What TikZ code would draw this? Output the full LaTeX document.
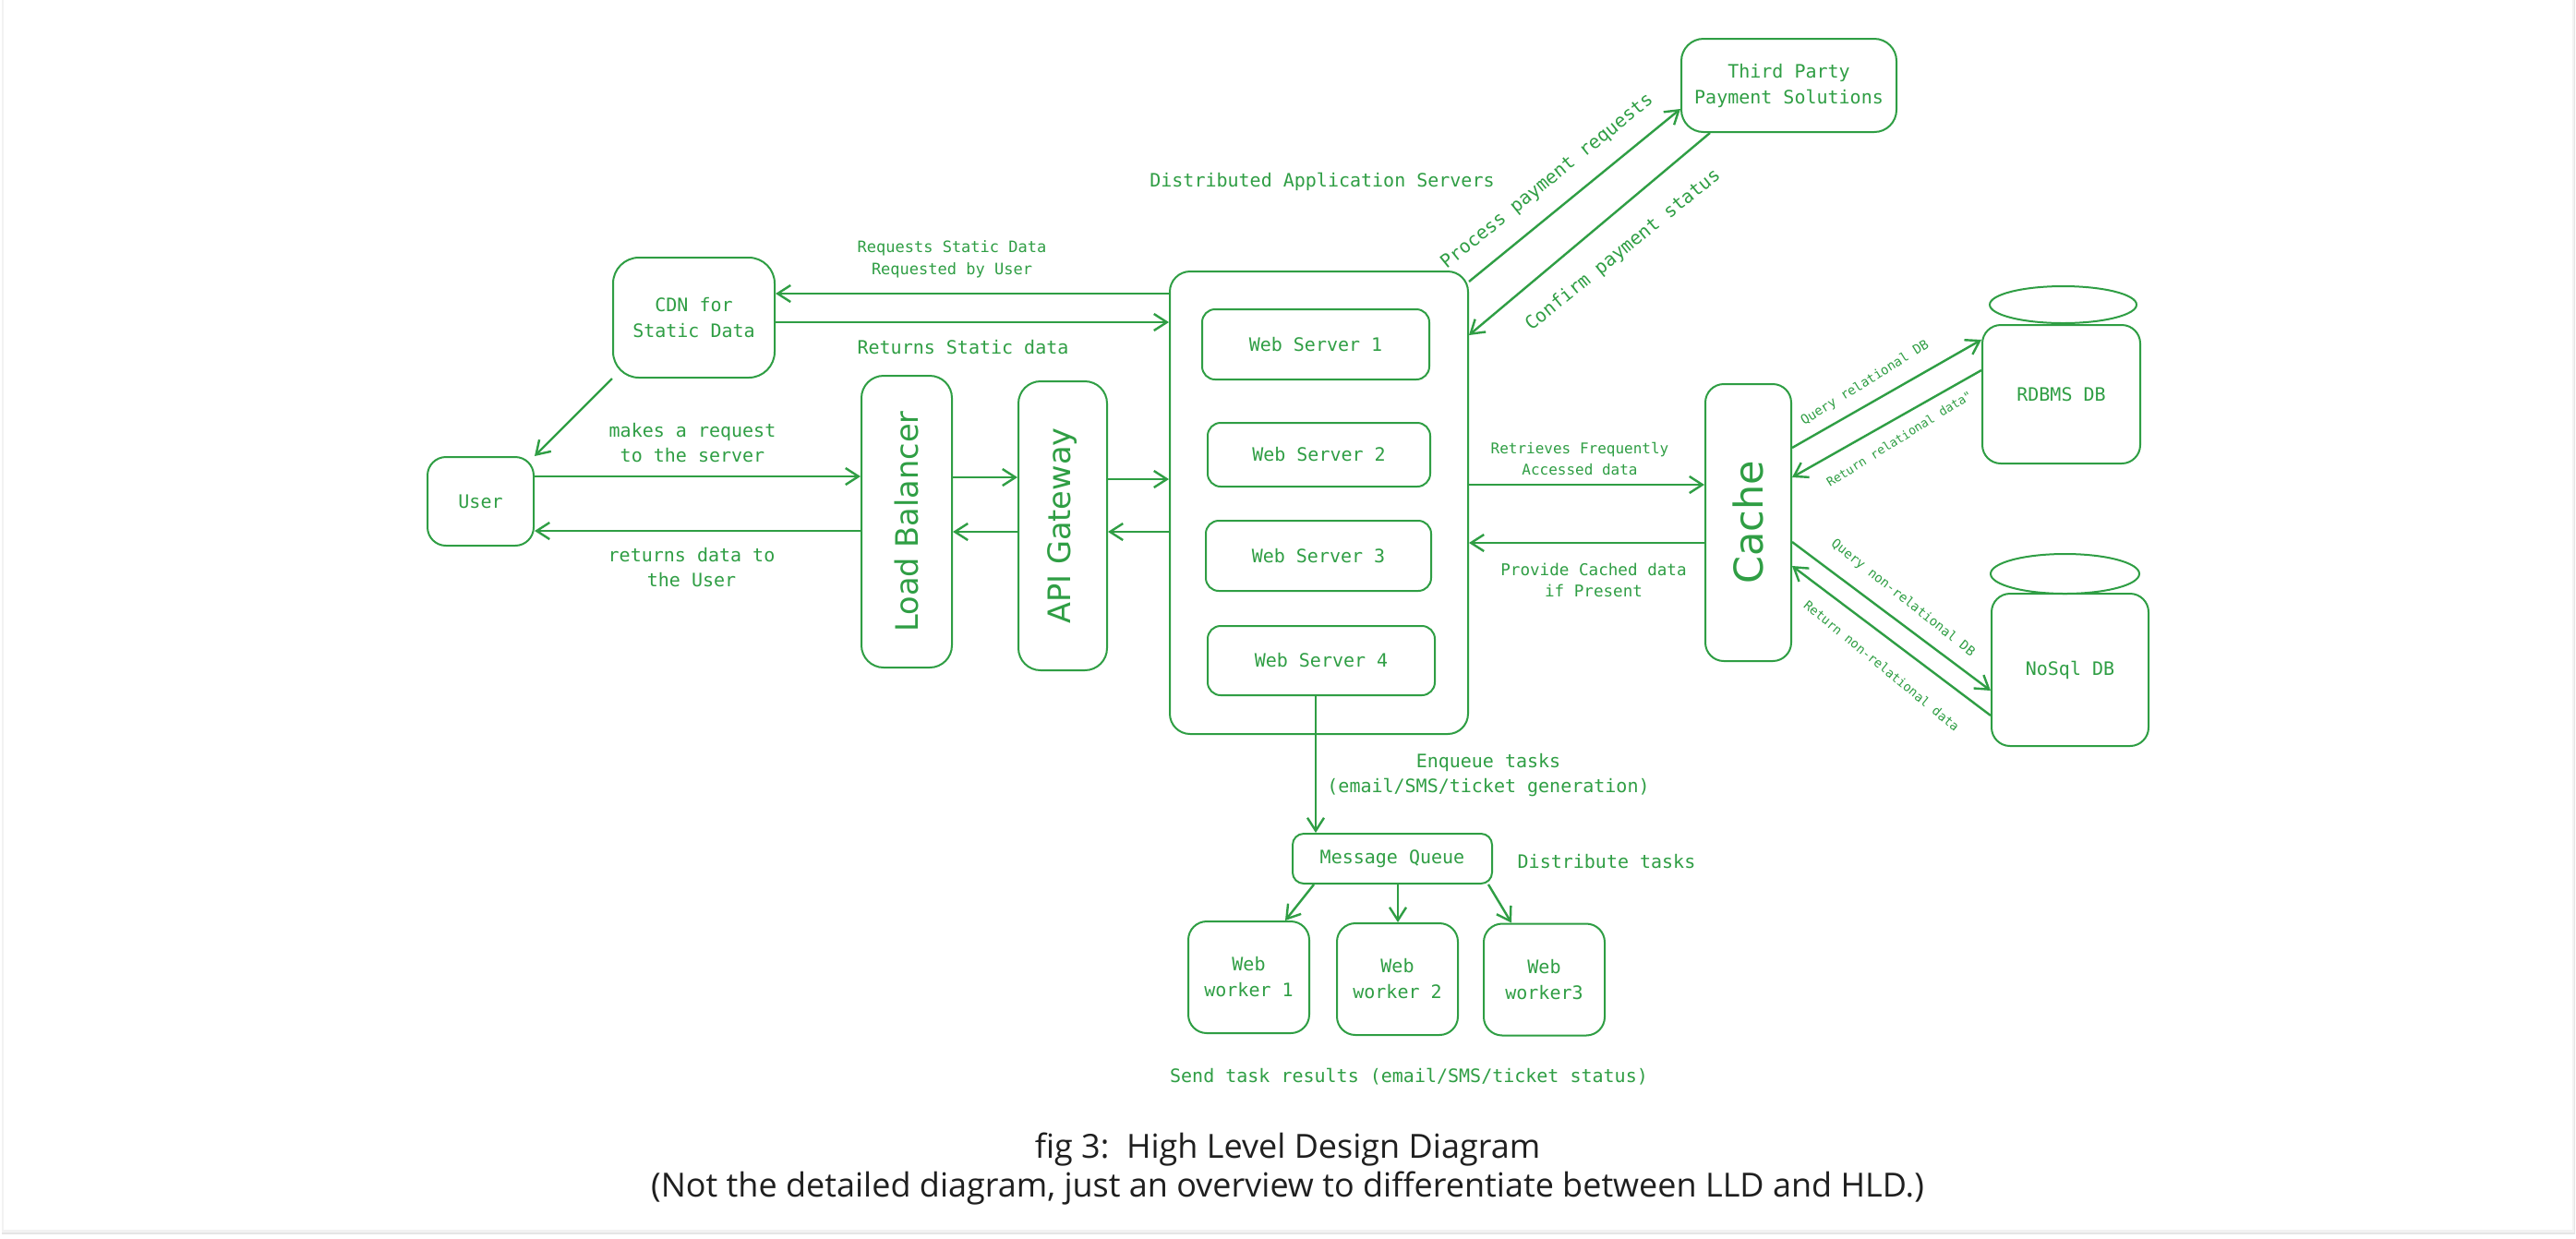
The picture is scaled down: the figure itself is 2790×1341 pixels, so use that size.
\documentclass[tikz,border=0pt]{standalone}
\usepackage{fontspec}
\newfontfamily\monof{DejaVu Sans Mono}
\newfontfamily\bigf{DejaVu Sans}
\newfontfamily\capf{Open Sans}
\usetikzlibrary{arrows.meta,shapes.geometric}
\definecolor{exgreen}{HTML}{2F9E44}
\begin{document}
\begin{tikzpicture}[x=0.5pt,y=-0.5pt,
  box/.style={draw=exgreen, line width=1pt, rounded corners=10pt, inner sep=0pt, text=exgreen,
    font=\monof\fontsize{10}{14}\selectfont, align=center},
  srv/.style={box, rounded corners=7pt},
  bigtxt/.style={font=\bigf\fontsize{16.8}{20}\selectfont},
  dbtop/.style={draw=exgreen, line width=1pt, ellipse, inner sep=0pt},
  lbl/.style={text=exgreen, font=\monof\fontsize{10}{13.5}\selectfont, align=center, inner sep=0pt},
  arr/.style={draw=exgreen, line width=1.2pt, -{Straight Barb[length=7pt,width=9pt]}}]
\useasboundingbox (0,0) rectangle (2790,1341);
\fill[white] (0,0) rectangle (2790,1341);
% card with shadow
\fill[black!10] (2,0) rectangle (2789,1337);
\fill[black!5] (2,0) rectangle (2788,1335);
\fill[white] (4,-5) rectangle (2786,1332);

% nodes
\node[box, minimum width=57.5pt, minimum height=48pt] (user) at (520.5,543) {User};
\node[box, minimum width=87.5pt, minimum height=65pt, rounded corners=14pt] (cdn) at (751.5,344) {CDN for\\Static Data};
\node[box, bigtxt, rotate=90, minimum width=158pt, minimum height=49pt, rounded corners=12pt] (lb) at (982,565) {Load Balancer};
\node[box, bigtxt, rotate=90, minimum width=156.5pt, minimum height=48pt, rounded corners=12pt] (api) at (1151,569.5) {API Gateway};
\node[box, minimum width=161.5pt, minimum height=250.5pt, rounded corners=11pt] (app) at (1428.5,544.5) {};
\node[srv, minimum width=123pt, minimum height=38pt] (ws1) at (1425,373) {Web Server 1};
\node[srv, minimum width=120.5pt, minimum height=34.5pt] (ws2) at (1428.5,492.5) {Web Server 2};
\node[srv, minimum width=122pt, minimum height=38pt] (ws3) at (1428,602) {Web Server 3};
\node[srv, minimum width=123pt, minimum height=37.5pt] (ws4) at (1431,715.5) {Web Server 4};
\node[box, minimum width=116.5pt, minimum height=50.5pt, rounded corners=12pt] (third) at (1937.5,92.5) {Third Party\\Payment Solutions};
\node[box, rotate=90, font=\bigf\fontsize{21.5}{24}\selectfont, minimum width=150pt, minimum height=46.5pt] (cache) at (1893.5,566) {Cache};
\node[box, minimum width=85.5pt, minimum height=75pt] (rdbms) at (2232.5,427) {RDBMS DB};
\node[dbtop, minimum width=79.5pt, minimum height=20pt] (rdbmstop) at (2234.5,330) {};
\node[box, minimum width=85pt, minimum height=82.5pt] (nosql) at (2242,725.5) {NoSql DB};
\node[dbtop, minimum width=80.5pt, minimum height=21.5pt] (nosqltop) at (2236.5,621.5) {};
\node[srv, minimum width=108pt, minimum height=27pt, rounded corners=6pt] (mq) at (1508,930) {Message Queue};
\node[box, minimum width=65.5pt, minimum height=60.5pt] (w1) at (1352.5,1058.5) {Web\\worker 1};
\node[box, minimum width=65.5pt, minimum height=60.5pt] (w2) at (1513.5,1060.5) {Web\\worker 2};
\node[box, minimum width=65.5pt, minimum height=60.5pt] (w3) at (1672.5,1061) {Web\\worker3};

% labels
\node[lbl, font=\monof\fontsize{8.5}{12}\selectfont] (lreq) at (1031,281) {Requests Static Data\\Requested by User};
\node[lbl] (lret) at (1043,376) {Returns Static data};
\node[lbl] (lmake) at (750,479.5) {makes a request\\to the server};
\node[lbl] (lback) at (749,615) {returns data to\\the User};
\node[lbl] (ldist) at (1432,197) {Distributed Application Servers};
\node[lbl, rotate=39] (lpay) at (1676,197) {Process payment requests};
\node[lbl, rotate=39] (lconf) at (1758,271) {Confirm payment status};
\node[lbl, font=\monof\fontsize{8}{11.5}\selectfont] (lretr) at (1711,496.5) {Retrieves Frequently\\Accessed data};
\node[lbl, font=\monof\fontsize{8.8}{11.5}\selectfont] (lprov) at (1726,628.5) {Provide Cached data\\if Present};
\node[lbl, rotate=32, font=\monof\fontsize{7}{8}\selectfont] (lqr) at (2020,415) {Query relational DB};
\node[lbl, rotate=32, font=\monof\fontsize{6.6}{8}\selectfont] (lrr) at (2057,475) {Return relational data"};
\node[lbl, rotate=-38.5, font=\monof\fontsize{7}{8}\selectfont] (lqn) at (2061,648) {Query non-relational DB};
\node[lbl, rotate=-39.5, font=\monof\fontsize{6.8}{8}\selectfont] (lrn) at (2038,721) {Return non-relational data};
\node[lbl] (lenq) at (1612,839.5) {Enqueue tasks\\(email/SMS/ticket generation)};
\node[lbl] (ldtask) at (1740,933) {Distribute tasks};
\node[lbl] (lsend) at (1526,1166) {Send task results (email/SMS/ticket status)};
\node[font=\capf\fontsize{18}{21}\selectfont, align=center, text=black!88, inner sep=0pt] (cap) at (1394.5,1266)
  {fig 3:\ \ High Level Design Diagram\\(Not the detailed diagram, just an overview to differentiate between LLD and HLD.)};

% connectors (rotated boxes: .north = left side, .south = right side)
\draw[arr] (app.west |- 0,318) -- (cdn.east |- 0,318);
\draw[arr] (cdn.east |- 0,349) -- (app.west |- 0,349);
\draw[arr] (cdn.south west) -- (user.north east);
\draw[arr] (user.east |- 0,516) -- (lb.north |- 0,516);
\draw[arr] (lb.north |- 0,575) -- (user.east |- 0,575);
\draw[arr] (lb.south |- 0,517) -- (api.north |- 0,517);
\draw[arr] (api.north |- 0,576) -- (lb.south |- 0,576);
\draw[arr] (api.south |- 0,519) -- (app.west |- 0,519);
\draw[arr] (app.west |- 0,576) -- (api.south |- 0,576);
\draw[arr] (app.east |- 0,305) -- (third.west |- 0,118);
\draw[arr] (third.south -| 1852,0) -- (app.east |- 0,363);
\draw[arr] (app.east |- 0,525) -- (cache.north |- 0,525);
\draw[arr] (cache.north |- 0,588) -- (app.east |- 0,588);
\draw[arr] (cache.south |- 0,485) -- (rdbms.west |- 0,368);
\draw[arr] (rdbms.west |- 0,401) -- (cache.south |- 0,517);
\draw[arr] (cache.south |- 0,587) -- (nosql.west |- 0,748);
\draw[arr] (nosql.west |- 0,775) -- (cache.south |- 0,613);
\draw[arr] (ws4.south -| 1425,0) -- (mq.north -| 1425,0);
\draw[arr] (mq.south -| 1423,0) -- (w1.north -| 1392,0);
\draw[arr] (mq.south -| 1514,0) -- (w2.north -| 1514,0);
\draw[arr] (mq.south -| 1612,0) -- (w3.north -| 1637,0);
\end{tikzpicture}
\end{document}
